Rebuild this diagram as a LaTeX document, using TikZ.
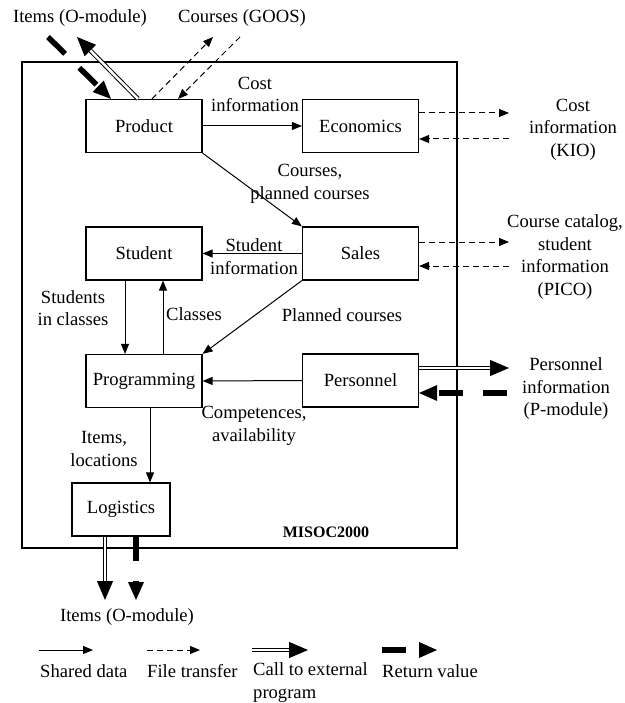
\documentclass[tikz,border=0pt]{standalone}
\usepackage{fontspec}
\setmainfont{Liberation Serif}
\usetikzlibrary{arrows.meta}

\begin{document}
\begin{tikzpicture}[x=1pt, y=-1pt, font=\fontsize{18.6}{22.5}\selectfont,
    module/.style={draw, line width=1.2pt, minimum width=116pt, minimum height=53pt, inner sep=0pt},
    lbl/.style={align=center, inner sep=0pt},
    shared/.style={line width=1pt, -{Triangle[length=10pt, width=8pt]}},
    filetr/.style={line width=1pt, dash pattern=on 6pt off 4pt, -{Triangle[length=10pt, width=8pt]}},
    calltip/.style={line width=1pt, -{Triangle[length=19pt, width=16pt]}},
    calldouble/.style={double, line width=1pt, double distance=2.5pt, shorten >=19pt},
    retval/.style={line width=5.5pt, dash pattern=on 24pt off 20pt, -{Triangle[length=18pt, width=16pt, line width=0pt]}}]
    \useasboundingbox (0,0) rectangle (624,703);

    \node[draw, line width=1.2pt, minimum width=435pt, minimum height=486pt] (misoc) at (239.5,305) {};
    \node[font=\fontsize{16}{19}\selectfont\bfseries] (misoclbl) at (326,532) {MISOC2000};

    \node[module] (product) at (144,126) {Product};
    \node[module] (economics) at (360.5,126) {Economics};
    \node[module] (student) at (144,253.5) {Student};
    \node[module] (sales) at (360.5,253.5) {Sales};
    \node[module] (programming) at (144,381) {Programming};
    \node[module] (personnel) at (360.5,380.5) {Personnel};
    \node[module, minimum width=98pt] (logistics) at (121,509.5) {Logistics};

    \draw[shared] (product.east) -- (economics.west);
    \draw[shared] (product.south east) -- (sales.north west);
    \draw[shared] (sales.west) -- (student.east);
    \draw[shared] (sales.south west) -- (programming.north east);
    \draw[shared] ([xshift=-19pt]student.south) -- ([xshift=-19pt]programming.north);
    \draw[shared] ([xshift=19pt]programming.north) -- ([xshift=19pt]student.south);
    \draw[shared] (personnel.west) -- (programming.east);
    \draw[shared] ([xshift=6pt]programming.south) -- ([xshift=6pt]programming.south |- logistics.north);

    \node[lbl] (costlbl) at (255,94.5) {Cost\\information};
    \node[lbl] (courseslbl) at (310,184) {Courses,\\planned courses};
    \node[lbl] (studinfolbl) at (254,256.5) {Student\\information};
    \node[lbl] (plannedlbl) at (342,315) {Planned courses};
    \node[lbl] (inclasslbl) at (73,308) {Students\\in classes};
    \node[lbl] (classeslbl) at (194,314) {Classes};
    \node[lbl] (competlbl) at (254,426) {Competences,\\availability};
    \node[lbl] (itemslbl) at (104,449) {Items,\\locations};

    \node (itemstop) at (80,18) {Items (O-module)};
    \node (goostop) at (242,18) {Courses (GOOS)};
    \coordinate (itemsin) at (48,37);
    \coordinate (itemsout) at (77,37);
    \coordinate (goosout) at (213,37);
    \coordinate (goosin) at (240,37);
    \draw[calltip] ([xshift=-6pt]product.north) -- (itemsout);
    \draw[calldouble] ([xshift=-6pt]product.north) -- (itemsout);
    \draw[retval] (itemsin) -- ([xshift=-33pt]product.north);
    \draw[filetr] ([xshift=8pt]product.north) -- (goosout);
    \draw[filetr] (goosin) -- ([xshift=34pt]product.north);

    \coordinate (kio1) at (509,113);
    \coordinate (kio2) at (509,139);
    \draw[filetr] (economics.east |- kio1) -- (kio1);
    \draw[filetr] (kio2) -- (economics.east |- kio2);
    \node[lbl] (kiolbl) at (573,129.5) {Cost\\information\\(KIO)};

    \coordinate (pico1) at (509,242);
    \coordinate (pico2) at (509,266);
    \draw[filetr] (sales.east |- pico1) -- (pico1);
    \draw[filetr] (pico2) -- (sales.east |- pico2);
    \node[lbl] (picolbl) at (565,257) {Course catalog,\\student\\information\\(PICO)};

    \coordinate (pmod1) at (509,368);
    \coordinate (pmod2) at (507,393);
    \draw[calltip] (personnel.east |- pmod1) -- (pmod1);
    \draw[calldouble] (personnel.east |- pmod1) -- (pmod1);
    \draw[retval] (pmod2) -- (personnel.east |- pmod2);
    \node[lbl] (pmodlbl) at (566,389) {Personnel\\information\\(P-module)};

    \coordinate (omod1) at (105,600);
    \coordinate (omod2) at (136,600);
    \draw[calltip] (logistics.south -| omod1) -- (omod1);
    \draw[calldouble] (logistics.south -| omod1) -- (omod1);
    \draw[retval] (logistics.south -| omod2) -- (omod2);
    \node (itemsbot) at (127,617) {Items (O-module)};

    \coordinate (shA) at (39,650);
    \coordinate (shB) at (93,650);
    \coordinate (ftA) at (147,650);
    \coordinate (ftB) at (200,650);
    \coordinate (caA) at (252,650);
    \coordinate (caB) at (308,650);
    \coordinate (rvA) at (382,650);
    \coordinate (rvB) at (437,650);
    \draw[shared] (shA) -- (shB);
    \draw[filetr] (ftA) -- (ftB);
    \draw[calltip] (caA) -- (caB);
    \draw[calldouble] (caA) -- (caB);
    \draw[retval] (rvA) -- (rvB);
    \node[lbl, anchor=west] (shlbl) at (40,671) {Shared data};
    \node[lbl, anchor=west] (ftlbl) at (147,671) {File transfer};
    \node[lbl, anchor=west, align=left] (calbl) at (253,682.5) {Call to external\\program};
    \node[lbl, anchor=west] (rvlbl) at (382,671) {Return value};
\end{tikzpicture}
\end{document}
